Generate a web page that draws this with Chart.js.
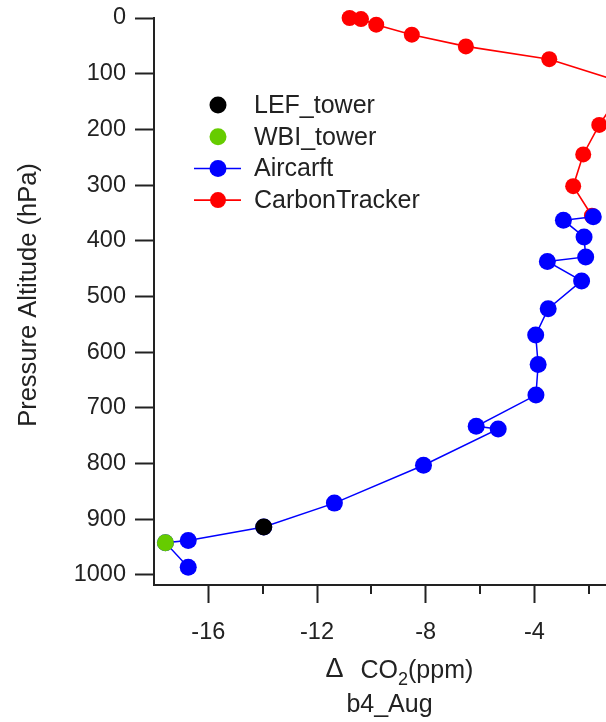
<!DOCTYPE html>
<html>
<head>
<meta charset="utf-8">
<script src="https://cdn.jsdelivr.net/npm/chart.js@4.4.0/dist/chart.umd.min.js"></script>
<style>
  html, body { margin: 0; padding: 0; background: #fff; overflow: hidden; width: 606px; height: 722px; }
  #wrap { position: relative; width: 660px; height: 722px; }
</style>
</head>
<body>
<div id="wrap"><canvas id="c" width="660" height="722"></canvas></div>
<script>
// Vertical profile of delta CO2 (ppm) against pressure altitude (hPa), b4_Aug

const lefDelta = [-13.96];
const lefPressure = [914];

const wbiDelta = [-17.58];
const wbiPressure = [942];

const aircraftDelta = [-1.83, -2.93, -2.17, -2.11, -3.52, -2.26, -3.49, -3.95, -3.86, -3.94,
                       -6.14, -5.33, -8.08, -11.36, -13.96, -16.74, -17.58, -16.74];
const aircraftPressure = [357, 363, 393, 429, 437, 472, 522, 569, 622, 677,
                          733, 738, 803, 871, 914, 938, 942, 986];

const ctDelta = [-10.80, -10.38, -9.82, -8.51, -6.52, -3.45, -0.60, -1.61, -2.20, -2.57, -1.88];
const ctPressure = [0, 2, 12, 30, 51, 74, 118, 192, 245, 302, 355];

const seriesNames = ['LEF_tower', 'WBI_tower', 'Aircarft', 'CarbonTracker'];

const xMajorTicks = [-16, -12, -8, -4, 0];
const xMinorTicks = [-14, -10, -6, -2];
const yTicks = [0, 100, 200, 300, 400, 500, 600, 700, 800, 900, 1000];

const xTitleMain = 'CO';
const xTitleSub = '2';
const xTitleUnit = '(ppm)';
const xTitleSymbol = '\u0394';
const panelName = 'b4_Aug';
const yTitle = 'Pressure Altitude (hPa)';

const FONT = '"Liberation Sans", Arial, sans-serif';
const INK = '#222';

function pts(xs, ys) { return xs.map((x, i) => ({ x: x, y: ys[i] })); }

// legend drawn inside the plot area
const legendPlugin = {
  id: 'innerLegend',
  afterDatasetsDraw(chart) {
    const { ctx, chartArea } = chart;
    const mx = chartArea.left + 64;
    const tx = chartArea.left + 100;
    const y0 = chartArea.top + 87;
    const dy = 31.7;
    ctx.save();
    ctx.font = '25px ' + FONT;
    ctx.textBaseline = 'middle';
    ctx.textAlign = 'left';
    chart.data.datasets.forEach((ds, i) => {
      const y = y0 + i * dy;
      if (ds.showLine) {
        ctx.strokeStyle = ds.borderColor;
        ctx.lineWidth = ds.borderWidth;
        ctx.beginPath();
        ctx.moveTo(mx - 24, y);
        ctx.lineTo(mx + 23, y);
        ctx.stroke();
      }
      ctx.fillStyle = ds.pointBackgroundColor;
      ctx.beginPath();
      ctx.arc(mx, y, ds.pointRadius, 0, Math.PI * 2);
      ctx.fill();
      ctx.fillStyle = INK;
      ctx.fillText(ds.label, tx, y + 1);
    });
    ctx.restore();
  }
};

// short minor ticks on the x axis plus the axis titles
const axisDecor = {
  id: 'axisDecor',
  afterDraw(chart) {
    const { ctx, chartArea, scales } = chart;
    const xs = scales.x;
    ctx.save();
    ctx.strokeStyle = INK;
    ctx.lineWidth = 2;
    xMinorTicks.forEach(v => {
      const px = Math.round(xs.getPixelForValue(v));
      ctx.beginPath();
      ctx.moveTo(px, chartArea.bottom);
      ctx.lineTo(px, chartArea.bottom + 9);
      ctx.stroke();
    });

    const cx = (chartArea.left + chartArea.right) / 2;
    const base = chartArea.bottom + 93;
    ctx.fillStyle = INK;
    ctx.textBaseline = 'alphabetic';

    ctx.font = '27px ' + FONT;
    ctx.textAlign = 'center';
    ctx.fillText(xTitleSymbol, cx - 64, base - 1);

    ctx.textAlign = 'left';
    let x = cx - 38;
    ctx.font = '25px ' + FONT;
    ctx.fillText(xTitleMain, x, base);
    x += ctx.measureText(xTitleMain).width;
    ctx.font = '18px ' + FONT;
    ctx.fillText(xTitleSub, x, base + 7);
    x += ctx.measureText(xTitleSub).width;
    ctx.font = '25px ' + FONT;
    ctx.fillText(xTitleUnit, x, base);

    ctx.textAlign = 'center';
    ctx.fillText(panelName, cx - 9, chartArea.bottom + 126.5);

    ctx.translate(29, (chartArea.top + chartArea.bottom) / 2 - 6.5);
    ctx.rotate(-Math.PI / 2);
    ctx.font = '25.5px ' + FONT;
    ctx.textBaseline = 'middle';
    ctx.fillText(yTitle, 0, 0);
    ctx.restore();
  }
};

new Chart(document.getElementById('c'), {
  type: 'scatter',
  data: {
    datasets: [
      {
        label: seriesNames[0],
        data: pts(lefDelta, lefPressure),
        showLine: false,
        pointRadius: 8.5,
        pointBorderWidth: 0,
        pointBackgroundColor: '#000000',
        borderColor: '#000000',
        clip: false
      },
      {
        label: seriesNames[1],
        data: pts(wbiDelta, wbiPressure),
        showLine: false,
        pointRadius: 8.5,
        pointBorderWidth: 0,
        pointBackgroundColor: '#66cc00',
        borderColor: '#66cc00',
        clip: false
      },
      {
        label: seriesNames[2],
        data: pts(aircraftDelta, aircraftPressure),
        showLine: true,
        borderColor: '#0000ff',
        borderWidth: 1.5,
        pointRadius: 8.5,
        pointBorderWidth: 0,
        pointBackgroundColor: '#0000ff',
        clip: false
      },
      {
        label: seriesNames[3],
        data: pts(ctDelta, ctPressure),
        showLine: true,
        borderColor: '#ff0000',
        borderWidth: 1.6,
        pointRadius: 8,
        pointBorderWidth: 0,
        pointBackgroundColor: '#ff0000',
        clip: false
      }
    ]
  },
  options: {
    responsive: false,
    animation: false,
    events: [],
    layout: { padding: { left: 0, top: 18, right: 17, bottom: 0 } },
    plugins: {
      legend: { display: false },
      tooltip: { enabled: false }
    },
    scales: {
      x: {
        type: 'linear',
        position: 'bottom',
        min: -18,
        max: 0,
        afterBuildTicks: s => { s.ticks = xMajorTicks.map(v => ({ value: v })); },
        afterFit: s => { s.height = 137; s.paddingLeft = 0; s.paddingRight = 0; },
        grid: { drawOnChartArea: false, drawTicks: true, tickLength: 18, tickWidth: 2, tickColor: INK },
        border: { display: true, color: INK, width: 2 },
        ticks: {
          font: { family: FONT, size: 23.5 },
          color: INK,
          padding: 15,
          maxRotation: 0,
          autoSkip: false,
          callback: v => String(v)
        },
        title: { display: false }
      },
      y: {
        type: 'linear',
        position: 'left',
        reverse: true,
        min: 0,
        max: 1018,
        afterBuildTicks: s => { s.ticks = yTicks.map(v => ({ value: v })); },
        afterFit: s => { s.width = 154; s.paddingTop = 0; s.paddingBottom = 0; },
        grid: { drawOnChartArea: false, drawTicks: true, tickLength: 19, tickWidth: 2, tickColor: INK },
        border: { display: true, color: INK, width: 2 },
        ticks: {
          font: { family: FONT, size: 23.5 },
          color: INK,
          padding: 9,
          autoSkip: false,
          callback: v => String(v)
        },
        title: { display: false }
      }
    }
  },
  plugins: [legendPlugin, axisDecor]
});
</script>
</body>
</html>
